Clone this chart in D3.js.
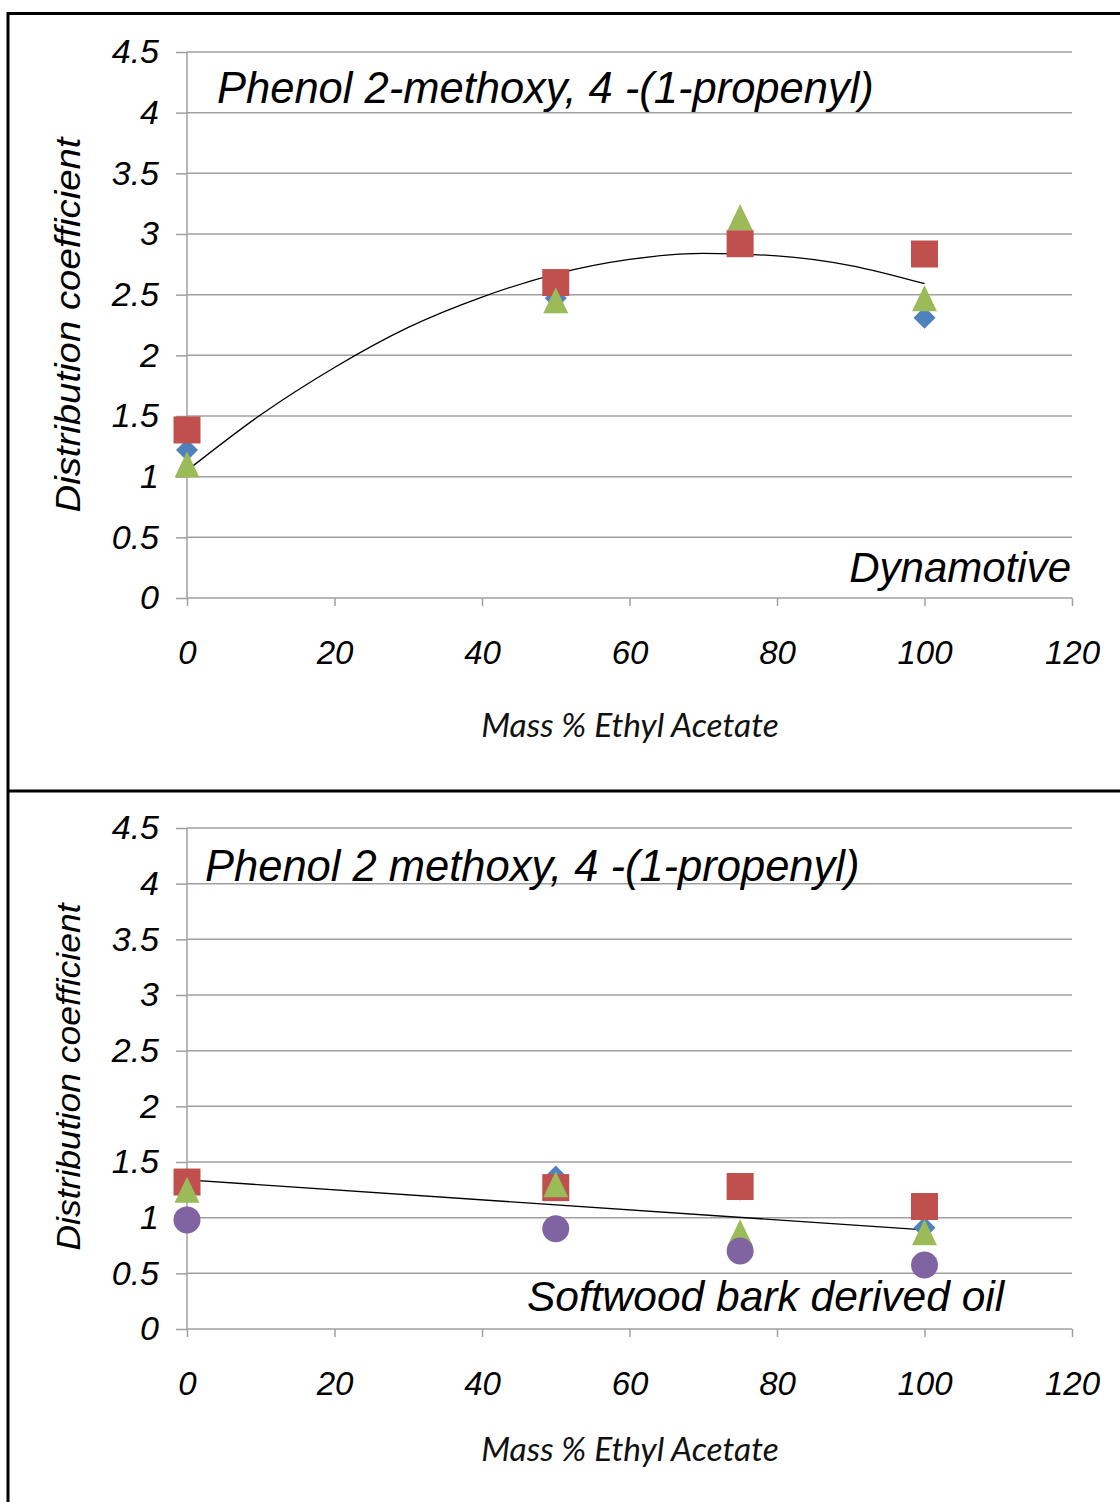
<!DOCTYPE html>
<html><head><meta charset="utf-8">
<script src="https://cdn.jsdelivr.net/npm/d3@7"></script>
<style>body{margin:0;background:#fff}svg{display:block}</style>
</head><body>
<script>
// ---- data ----
const xCategories = [0, 50, 75, 100];
const xTicks = [0, 20, 40, 60, 80, 100, 120];
const yTicks = [0, 0.5, 1, 1.5, 2, 2.5, 3, 3.5, 4, 4.5];
const yTickLabels = ["0", "0.5", "1", "1.5", "2", "2.5", "3", "3.5", "4", "4.5"];

const topTitle = "Phenol 2-methoxy, 4 -(1-propenyl)";
const topNote = "Dynamotive";
const topBlue = [1.22, 2.47, 2.93, 2.31];
const topRed = [1.385, 2.60, 2.92, 2.835];
const topGreen = [1.10, 2.455, 3.14, 2.47];
const topTrendX = [0, 10, 20, 30, 40, 50, 60, 70, 80, 90, 100];
const topTrendY = [1.05, 1.51, 1.90, 2.23, 2.48, 2.67, 2.79, 2.84, 2.82, 2.74, 2.59];

const botTitle = "Phenol 2 methoxy, 4 -(1-propenyl)";
const botNote = "Softwood bark derived oil";
const botBlue = [1.23, 1.37, 1.25, 0.91];
const botRed = [1.32, 1.27, 1.28, 1.10];
const botGreen = [1.25, 1.30, 0.87, 0.87];
const botPurple = [0.98, 0.90, 0.70, 0.575];
const botTrendX = [0, 100];
const botTrendY = [1.34, 0.89];

const xTitle = "Mass % Ethyl Acetate";
const yTitle = "Distribution coefficient";

const colors = {blue: "#4F81BD", red: "#C0504D", green: "#9BBB59", purple: "#8064A2"};

// ---- drawing ----
const W = 1120, H = 1502;
const svg = d3.select("body").append("svg").attr("width", W).attr("height", H);

// frame
svg.append("line").attr("x1", 8).attr("x2", 8).attr("y1", 12).attr("y2", H).attr("stroke", "#000").attr("stroke-width", 3);
svg.append("line").attr("x1", 7).attr("x2", W).attr("y1", 13.5).attr("y2", 13.5).attr("stroke", "#000").attr("stroke-width", 3);
svg.append("line").attr("x1", 7).attr("x2", W).attr("y1", 791).attr("y2", 791).attr("stroke", "#000").attr("stroke-width", 3);

// triangle marker centred on its bounding box (like Excel markers)
const excelTriangle = {
  draw(ctx, size) {
    const h = Math.sqrt(size), w = h * 0.96;
    ctx.moveTo(0, -h / 2);
    ctx.lineTo(w / 2, h / 2);
    ctx.lineTo(-w / 2, h / 2);
    ctx.closePath();
  }
};

const markers = {
  blue: {type: d3.symbolDiamond2, size: 310},
  red: {type: d3.symbolSquare, size: 729},
  green: {type: excelTriangle, size: 676},
  purple: {type: d3.symbolCircle, size: 572}
};

function drawChart(cfg) {
  const x = d3.scaleLinear().domain([0, 120]).range([187, 1072]);
  const y = d3.scaleLinear().domain([0, 4.5]).range([cfg.y0, cfg.y45]);
  const g = svg.append("g");

  // gridlines
  g.selectAll(".grid").data(yTicks.slice(1)).join("line")
    .attr("x1", 187).attr("x2", 1072)
    .attr("y1", d => y(d)).attr("y2", d => y(d))
    .attr("stroke", "#a0a0a0").attr("stroke-width", 1.5);

  // y axis
  const yAxis = d3.axisLeft(y).tickValues(yTicks).tickSize(11).tickPadding(17)
    .tickFormat((d, i) => yTickLabels[i]);
  const ya = g.append("g").attr("transform", "translate(187,0)").call(yAxis);
  ya.select(".domain").attr("stroke", "#a0a0a0").attr("stroke-width", 1.5).attr("d", `M0,${y(0)}V${y(4.5)}`);
  ya.selectAll(".tick line").attr("stroke", "#a0a0a0").attr("stroke-width", 1.5);
  ya.selectAll(".tick text").attr("font-family", "Liberation Sans, Arial, sans-serif")
    .attr("font-style", "italic").attr("font-size", 34).attr("fill", "#000");

  // x axis
  const xAxis = d3.axisBottom(x).tickValues(xTicks).tickSize(8).tickPadding(35).tickFormat(d3.format("d"));
  const xa = g.append("g").attr("transform", `translate(0,${y(0)})`).call(xAxis);
  xa.select(".domain").attr("stroke", "#a0a0a0").attr("stroke-width", 1.5).attr("d", "M187,0H1072");
  xa.selectAll(".tick line").attr("stroke", "#a0a0a0").attr("stroke-width", 1.5);
  xa.selectAll(".tick text").attr("font-family", "Liberation Sans, Arial, sans-serif")
    .attr("font-style", "italic").attr("font-size", 33).attr("fill", "#000");

  // titles
  g.append("text").attr("x", cfg.titleX).attr("y", cfg.titleY)
    .attr("font-family", "Liberation Sans, Arial, sans-serif").attr("font-style", "italic")
    .attr("font-size", 43.5).text(cfg.title);
  g.append("text").attr("x", cfg.noteX).attr("y", cfg.noteY).attr("text-anchor", cfg.noteAnchor)
    .attr("font-family", "Liberation Sans, Arial, sans-serif").attr("font-style", "italic")
    .attr("font-size", cfg.noteSize).text(cfg.note);
  g.append("text").attr("x", 630).attr("y", cfg.xTitleY).attr("text-anchor", "middle")
    .attr("font-family", "Lato, 'Open Sans', sans-serif").attr("font-style", "italic")
    .attr("font-size", 33.5).attr("fill", "#111").text(xTitle);
  g.append("text").attr("transform", `translate(80,${cfg.yTitleC}) rotate(-90)`).attr("text-anchor", "middle")
    .attr("font-family", "Liberation Sans, Arial, sans-serif").attr("font-style", "italic")
    .attr("font-size", cfg.yTitleSize).attr("textLength", cfg.yTitleLen).attr("lengthAdjust", "spacingAndGlyphs").text(yTitle);

  // trendline
  const line = d3.line().x((d, i) => x(cfg.trendX[i])).y(d => y(d)).curve(d3.curveMonotoneX);
  g.append("path").attr("d", line(cfg.trendY)).attr("fill", "none")
    .attr("stroke", "#000").attr("stroke-width", 1.3);

  // markers
  cfg.series.forEach(s => {
    const m = markers[s.color];
    g.selectAll(null).data(s.values).join("path")
      .attr("transform", (d, i) => `translate(${x(xCategories[i])},${y(d)})`)
      .attr("d", d3.symbol().type(m.type).size(m.size)())
      .attr("fill", colors[s.color]);
  });
}

drawChart({
  y0: 598, y45: 52, title: topTitle, titleX: 217, titleY: 103,
  note: topNote, noteX: 1071, noteY: 582, noteAnchor: "end", noteSize: 42,
  xTitleY: 737, yTitleC: 325, yTitleLen: 375, yTitleSize: 35,
  trendX: topTrendX, trendY: topTrendY,
  series: [{color: "blue", values: topBlue}, {color: "red", values: topRed}, {color: "green", values: topGreen}]
});
drawChart({
  y0: 1329, y45: 828, title: botTitle, titleX: 205, titleY: 881,
  note: botNote, noteX: 527, noteY: 1311, noteAnchor: "start", noteSize: 42.5,
  xTitleY: 1461, yTitleC: 1077, yTitleLen: 347, yTitleSize: 34,
  trendX: botTrendX, trendY: botTrendY,
  series: [{color: "blue", values: botBlue}, {color: "red", values: botRed}, {color: "green", values: botGreen}, {color: "purple", values: botPurple}]
});
</script>
</body></html>
